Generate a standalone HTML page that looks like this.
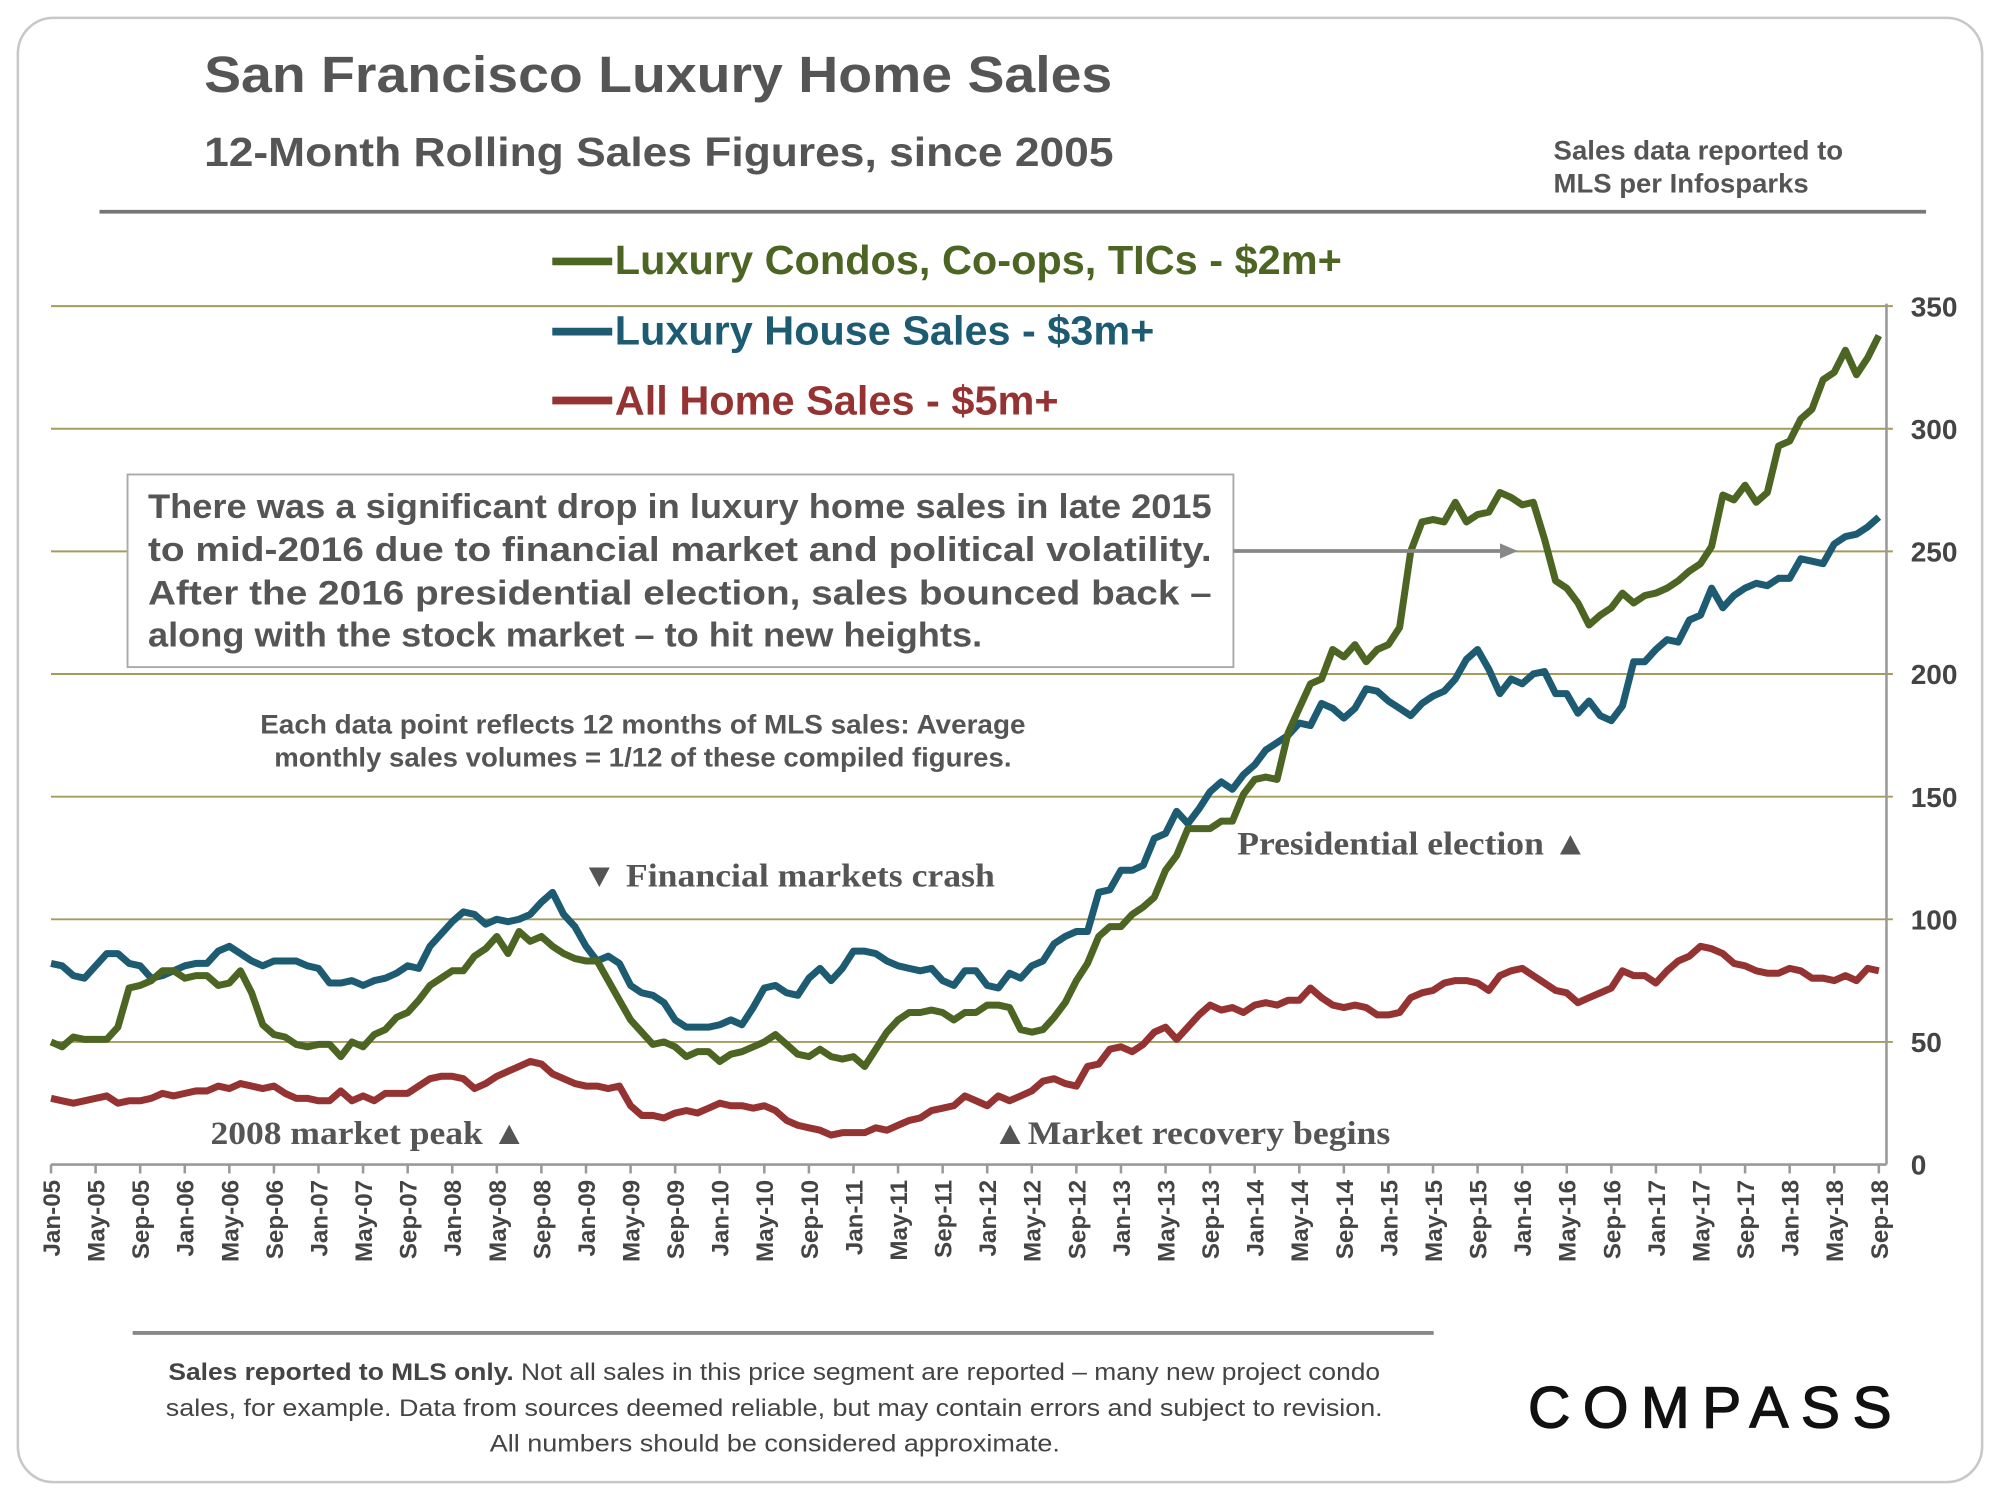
<!DOCTYPE html>
<html><head><meta charset="utf-8"><style>
html,body{margin:0;padding:0;background:#fff;}
svg{display:block;}
text{font-family:"Liberation Sans",sans-serif;}
.serif{font-family:"Liberation Serif",serif;}
</style></head><body>
<svg id="chart" width="2000" height="1500" viewBox="0 0 1568 1176" xmlns="http://www.w3.org/2000/svg">
<rect x="14" y="14" width="1540" height="1148" rx="28" fill="#fff" stroke="#c8c8c8" stroke-width="2"/>
<text x="160" y="72" font-size="40" font-weight="bold" fill="#555" textLength="712" lengthAdjust="spacingAndGlyphs">San Francisco Luxury Home Sales</text>
<text x="160" y="130" font-size="32" font-weight="bold" fill="#555" textLength="713" lengthAdjust="spacingAndGlyphs">12-Month Rolling Sales Figures, since 2005</text>
<text x="1218" y="125" font-size="21" font-weight="bold" fill="#555" textLength="227" lengthAdjust="spacingAndGlyphs">Sales data reported to</text>
<text x="1218" y="151" font-size="21" font-weight="bold" fill="#555" textLength="200" lengthAdjust="spacingAndGlyphs">MLS per Infosparks</text>
<line x1="78" y1="166" x2="1510" y2="166" stroke="#777" stroke-width="3"/>
<g id="grid"></g>
<g id="series"></g>
<g>
<line x1="433" y1="205" x2="480" y2="205" stroke="#4d6523" stroke-width="6"/>
<text x="482" y="215" font-size="32" font-weight="bold" fill="#4d6523" textLength="570" lengthAdjust="spacingAndGlyphs">Luxury Condos, Co-ops, TICs - $2m+</text>
<line x1="433" y1="260" x2="480" y2="260" stroke="#1d5b72" stroke-width="6"/>
<text x="482" y="270" font-size="32" font-weight="bold" fill="#1d5b72" textLength="423" lengthAdjust="spacingAndGlyphs">Luxury House Sales - $3m+</text>
<line x1="433" y1="314" x2="480" y2="314" stroke="#953333" stroke-width="6"/>
<text x="482" y="325" font-size="32" font-weight="bold" fill="#953333" textLength="348" lengthAdjust="spacingAndGlyphs">All Home Sales - $5m+</text>
</g>
<g>
<rect x="100" y="372" width="867" height="151" fill="#fff" stroke="#aaa" stroke-width="1.5"/>
<text x="116" y="406" font-size="27" font-weight="bold" fill="#555" textLength="834" lengthAdjust="spacingAndGlyphs">There was a significant drop in luxury home sales in late 2015</text>
<text x="116" y="440" font-size="27" font-weight="bold" fill="#555" textLength="834" lengthAdjust="spacingAndGlyphs">to mid-2016 due to financial market and political volatility.</text>
<text x="116" y="474" font-size="27" font-weight="bold" fill="#555" textLength="834" lengthAdjust="spacingAndGlyphs">After the 2016 presidential election, sales bounced back –</text>
<text x="116" y="507" font-size="27" font-weight="bold" fill="#555" textLength="654" lengthAdjust="spacingAndGlyphs">along with the stock market – to hit new heights.</text>
</g>
<g>
<line x1="967" y1="432" x2="1176" y2="432" stroke="#888" stroke-width="3"/>
<polygon points="1176,426 1190,432 1176,438" fill="#888"/>
</g>
<text x="204" y="575" font-size="21" font-weight="bold" fill="#555" textLength="600" lengthAdjust="spacingAndGlyphs">Each data point reflects 12 months of MLS sales:  Average</text>
<text x="215" y="601" font-size="21" font-weight="bold" fill="#555" textLength="578" lengthAdjust="spacingAndGlyphs">monthly sales volumes = 1/12 of these compiled figures.</text>
<text class="serif" x="456" y="695" font-size="26" font-weight="bold" fill="#555" textLength="324" lengthAdjust="spacingAndGlyphs">▼ Financial markets crash</text>
<text class="serif" x="970" y="670" font-size="26" font-weight="bold" fill="#555" textLength="275" lengthAdjust="spacingAndGlyphs">Presidential election ▲</text>
<text class="serif" x="165" y="897" font-size="26" font-weight="bold" fill="#555" textLength="248" lengthAdjust="spacingAndGlyphs">2008 market peak ▲</text>
<text class="serif" x="778" y="897" font-size="26" font-weight="bold" fill="#555" textLength="312" lengthAdjust="spacingAndGlyphs">▲Market recovery begins</text>
<g id="axes"></g>
<line x1="104" y1="1045" x2="1124" y2="1045" stroke="#888" stroke-width="3"/>
<text x="132" y="1082" font-size="19" fill="#444" textLength="950" lengthAdjust="spacingAndGlyphs"><tspan font-weight="bold">Sales reported to MLS only.</tspan> Not all sales in this price segment are reported – many new project condo</text>
<text x="130" y="1110" font-size="19" fill="#444" textLength="954" lengthAdjust="spacingAndGlyphs">sales, for example. Data from sources deemed reliable, but may contain errors and subject to revision.</text>
<text x="384" y="1138" font-size="19" fill="#444" textLength="447" lengthAdjust="spacingAndGlyphs">All numbers should be considered approximate.</text>
<text x="1198" y="1119" font-size="46" fill="#111" stroke="#111" stroke-width="1" textLength="285" lengthAdjust="spacing">COMPASS</text>
</svg>
<script>
const condos=[50,48,52,51,51,51,56,72,73,75,79,79,
76,77,77,73,74,79,70,57,53,52,49,48,
49,49,44,50,48,53,55,60,62,67,73,76,
79,79,85,88,93,86,95,91,93,89,86,84,
83,83,75,67,59,54,49,50,48,44,46,46,
42,45,46,48,50,53,49,45,44,47,44,43,
44,40,47,54,59,62,62,63,62,59,62,62,
65,65,64,55,54,55,60,66,75,82,93,97,
97,102,105,109,120,126,137,137,137,140,140,151,
157,158,157,176,186,196,198,210,207,212,205,210,
212,219,250,262,263,262,270,262,265,266,274,272,
269,270,255,238,235,229,220,224,227,233,229,232,
233,235,238,242,245,252,273,271,277,270,274,293,
295,304,308,320,323,332,322,329,338];
const houses=[82,81,77,76,81,86,86,82,81,76,77,79,
81,82,82,87,89,86,83,81,83,83,83,81,
80,74,74,75,73,75,76,78,81,80,89,94,
99,103,102,98,100,99,100,102,107,111,102,97,
89,83,85,82,73,70,69,66,59,56,56,56,
57,59,57,64,72,73,70,69,76,80,75,80,
87,87,86,83,81,80,79,80,75,73,79,79,
73,72,78,76,81,83,90,93,95,95,111,112,
120,120,122,133,135,144,139,145,152,156,153,159,
163,169,172,175,180,179,188,186,182,186,194,193,
189,186,183,188,191,193,198,206,210,202,192,198,
196,200,201,192,192,184,189,183,181,187,205,205,
210,214,213,222,224,235,227,232,235,237,236,239,
239,247,246,245,253,256,257,260,264];
const allHomes=[27,26,25,26,27,28,25,26,26,27,29,28,
29,30,30,32,31,33,32,31,32,29,27,27,
26,26,30,26,28,26,29,29,29,32,35,36,
36,35,31,33,36,38,40,42,41,37,35,33,
32,32,31,32,24,20,20,19,21,22,21,23,
25,24,24,23,24,22,18,16,15,14,12,13,
13,13,15,14,16,18,19,22,23,24,28,26,
24,28,26,28,30,34,35,33,32,40,41,47,
48,46,49,54,56,51,56,61,65,63,64,62,
65,66,65,67,67,72,68,65,64,65,64,61,
61,62,68,70,71,74,75,75,74,71,77,79,
80,77,74,71,70,66,68,70,72,79,77,77,
74,79,83,85,89,88,86,82,81,79,78,78,
80,79,76,76,75,77,75,80,79];
const yTicks=[0,50,100,150,200,250,300,350];
const monthNames=["Jan","Feb","Mar","Apr","May","Jun","Jul","Aug","Sep","Oct","Nov","Dec"];

const NS="http://www.w3.org/2000/svg";
const X0=40,X1=1473,Y0=913,Y1=240,YMAX=350;
const n=condos.length;
function xs(i){return X0+(X1-X0)*i/(n-1);}
function ys(v){return Y0-(Y0-Y1)*v/YMAX;}
function mk(tag,attrs,parent){const e=document.createElementNS(NS,tag);for(const k in attrs)e.setAttribute(k,attrs[k]);parent.appendChild(e);return e;}

const grid=document.getElementById('grid');
const axes=document.getElementById('axes');
yTicks.forEach(t=>{
  if(t>0){const g=mk('line',{x1:40,x2:1484,y1:ys(t),y2:ys(t),stroke:'#a39c5a','stroke-width':1.5},grid);
  
  }
  const lb=mk('text',{x:1498,y:ys(t)+8,'font-size':22,'font-weight':'bold',fill:'#444'},axes);
  lb.textContent=t;
  
  
});
const ra=mk('line',{x1:1479,x2:1479,y1:238,y2:Y0,stroke:'#999','stroke-width':2},axes);


const xa=mk('line',{x1:X0,x2:1479,y1:Y0,y2:Y0,stroke:'#999','stroke-width':2},axes);


for(let i=0;i<n;i+=4){
  const x=xs(i);
  const tk=mk('line',{x1:x,x2:x,y1:Y0,y2:Y0+7,stroke:'#999','stroke-width':2},axes);
  
  
  const yr=5+Math.floor(i/12);
  const lab=monthNames[i%12]+'-'+(yr<10?'0'+yr:yr);
  const t=mk('text',{x:0,y:0,'font-size':19,'font-weight':'bold',fill:'#444','text-anchor':'end',transform:'translate('+(x+7)+','+(Y0+12)+') rotate(-90)'},axes);
  t.textContent=lab;
  
  
}
const ser=document.getElementById('series');
[[allHomes,'#953333','line-all-homes-5m'],[houses,'#1d5b72','line-houses-3m'],[condos,'#4d6523','line-condos-2m']].forEach(s=>{
  const d=s[0].map((v,i)=>(i?'L':'M')+xs(i).toFixed(1)+','+ys(v).toFixed(1)).join('');
  const p=mk('path',{d:d,fill:'none',stroke:s[1],'stroke-width':5.5,'stroke-linejoin':'round'},ser);
  
  
});
</script>
</body></html>
